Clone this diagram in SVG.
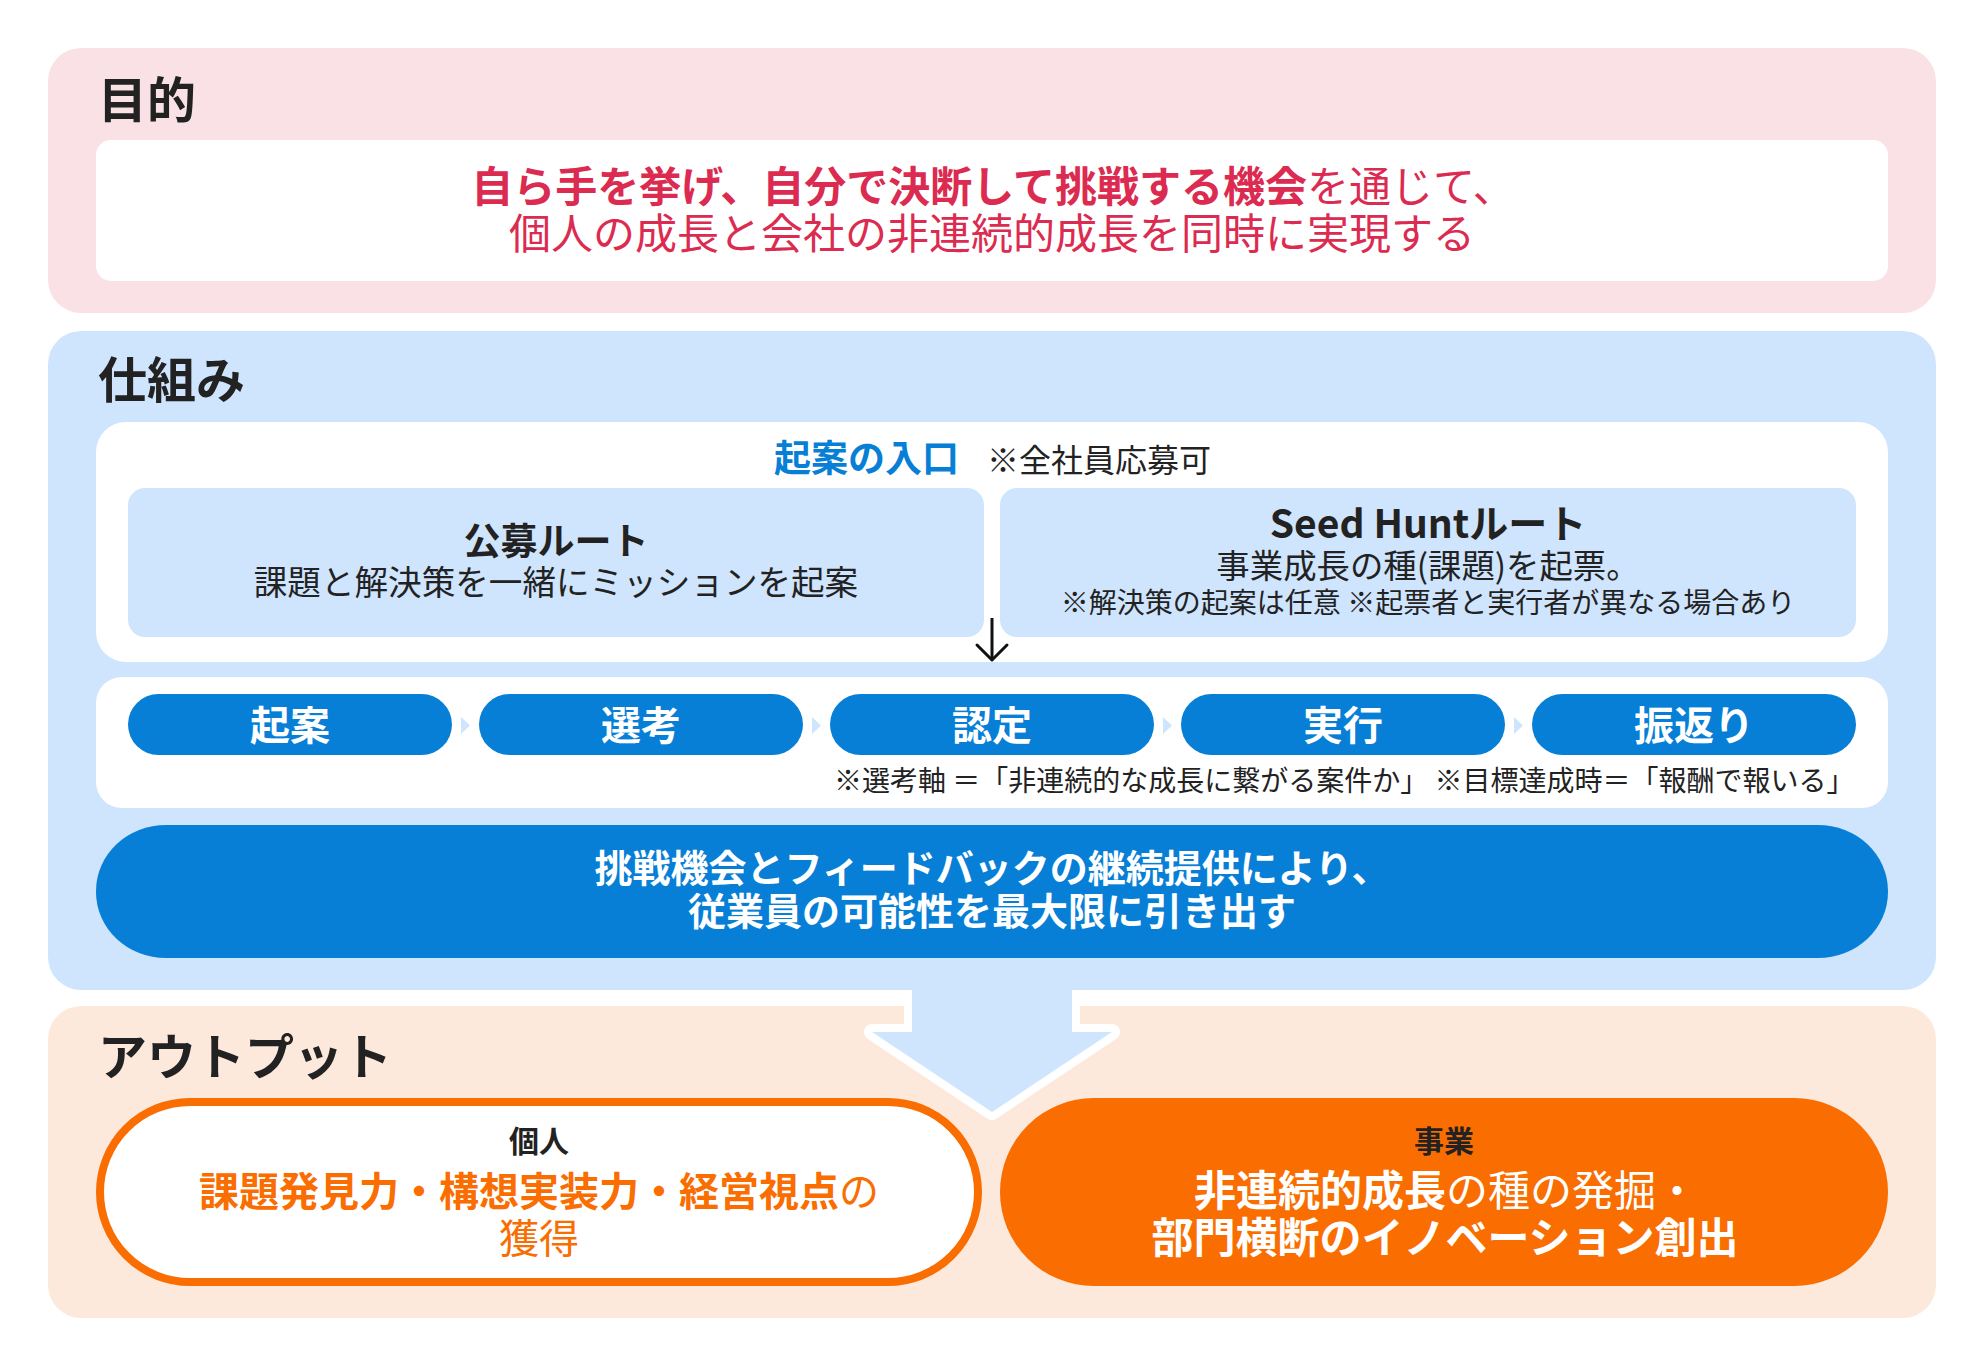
<svg xmlns="http://www.w3.org/2000/svg" width="1984" height="1366" viewBox="0 0 1984 1366">
<defs>
<style>
text{font-family:"Noto Sans CJK JP","Noto Sans",sans-serif;}
.b{font-weight:700;}
.r{font-weight:400;}
.title{font-size:49px;font-weight:700;fill:#222222;}
.dark{fill:#222222;}
.red{fill:#dc2b50;}
.wht{fill:#ffffff;}
.org{fill:#f96d01;}
.blu{fill:#077fd6;}
.c{text-anchor:middle;}
.pill{fill:#077fd6;}
.sub{fill:#cfe4fd;}
.tri{fill:#cfe4fd;}
</style>
</defs>
<rect width="1984" height="1366" fill="#ffffff"/>

<g id="purpose">
<rect x="48" y="48" width="1888" height="265" rx="33" fill="#f9e1e5"/>
<text x="98" y="118" class="title">目的</text>
<rect x="96" y="140" width="1792" height="141" rx="15" fill="#ffffff"/>
<text x="993" y="202" class="c red" font-size="42"><tspan class="b">自ら手を挙げ、自分で決断して挑戦する機会</tspan><tspan class="r">を通じて、</tspan></text>
<text x="992" y="249" class="c red r" font-size="42">個人の成長と会社の非連続的成長を同時に実現する</text>
</g>

<g id="mechanism">
<rect x="48" y="331" width="1888" height="659" rx="33" fill="#cfe4fd"/>
<text x="98" y="398" class="title">仕組み</text>
</g>

<g id="output">
<rect x="48" y="1006" width="1888" height="312" rx="33" fill="#fde9dc"/>
<text x="98" y="1075" class="title">アウトプット</text>
</g>

<g id="entry">
<rect x="96" y="422" width="1792" height="240" rx="30" fill="#ffffff"/>
<text x="774" y="472" class="b blu" font-size="37">起案の入口</text>
<text x="987" y="472" class="r dark" font-size="32">※全社員応募可</text>
</g>

<g id="route-koubo">
<rect x="128" y="488" width="856" height="149" rx="17" class="sub"/>
<text x="556" y="555" class="c b dark" font-size="37">公募ルート</text>
<text x="556" y="595" class="c r dark" font-size="33.6">課題と解決策を一緒にミッションを起案</text>
</g>

<g id="route-seedhunt">
<rect x="1000" y="488" width="856" height="149" rx="17" class="sub"/>
<text x="1428" y="538" class="c b dark" font-size="39">Seed Huntルート</text>
<text x="1428" y="578" class="c r dark" font-size="33.4">事業成長の種(課題)を起票。</text>
<text x="1428" y="613" class="c r dark" font-size="28">※解決策の起案は任意 ※起票者と実行者が異なる場合あり</text>
</g>

<g id="process">
<rect x="96" y="677" width="1792" height="131" rx="26" fill="#ffffff"/>
<text x="834" y="791" class="r dark" font-size="28">※選考軸 ＝「非連続的な成長に繋がる案件か」 ※目標達成時＝「報酬で報いる」</text>
</g>

<g id="step-kian">
<rect x="128" y="694" width="324" height="61" rx="30.5" class="pill"/>
<text x="290" y="740" class="c b wht" font-size="40">起案</text>
</g>
<g id="step-senkou">
<rect x="479" y="694" width="324" height="61" rx="30.5" class="pill"/>
<text x="641" y="740" class="c b wht" font-size="40">選考</text>
</g>
<g id="step-nintei">
<rect x="830" y="694" width="324" height="61" rx="30.5" class="pill"/>
<text x="992" y="740" class="c b wht" font-size="40">認定</text>
</g>
<g id="step-jikkou">
<rect x="1181" y="694" width="324" height="61" rx="30.5" class="pill"/>
<text x="1343" y="740" class="c b wht" font-size="40">実行</text>
</g>
<g id="step-furikaeri">
<rect x="1532" y="694" width="324" height="61" rx="30.5" class="pill"/>
<text x="1694" y="740" class="c b wht" font-size="40">振返り</text>
</g>

<g id="summary">
<rect x="96" y="825" width="1792" height="133" rx="70" ry="66" class="pill"/>
<text x="992" y="882" class="c b wht" font-size="38">挑戦機会とフィードバックの継続提供により、</text>
<text x="992" y="925" class="c b wht" font-size="38">従業員の可能性を最大限に引き出す</text>
</g>

<g id="out-individual">
<rect x="100" y="1102" width="878" height="180" rx="90" fill="#ffffff" stroke="#f96d01" stroke-width="8"/>
<text x="539" y="1152" class="c b dark" font-size="30">個人</text>
<text x="539" y="1206" class="c org" font-size="40"><tspan class="b">課題発見力・構想実装力・経営視点</tspan><tspan class="r">の</tspan></text>
<text x="539" y="1253" class="c org r" font-size="40">獲得</text>
</g>

<g id="out-business">
<rect x="1000" y="1098" width="888" height="188" rx="94" fill="#f96d01"/>
<text x="1444" y="1152" class="c b dark" font-size="30">事業</text>
<text x="1446" y="1206" class="c wht" font-size="42"><tspan class="b">非連続的成長</tspan><tspan class="r">の種の発掘・</tspan></text>
<text x="1445" y="1253" class="c b wht" font-size="42">部門横断のイノベーション創出</text>
</g>

<g id="connectors">
<polygon points="461,717 470,725.5 461,734" class="tri"/>
<polygon points="812,717 821,725.5 812,734" class="tri"/>
<polygon points="1163,717 1172,725.5 1163,734" class="tri"/>
<polygon points="1514,717 1523,725.5 1514,734" class="tri"/>
<line x1="992" y1="618" x2="992" y2="660" stroke="#111111" stroke-width="3"/>
<polyline points="977,645 992,660 1007,645" fill="none" stroke="#111111" stroke-width="3" stroke-linecap="round" stroke-linejoin="round"/>
<path d="M912 990 V1032 H872 L992 1112 L1112 1032 H1072 V990" fill="none" stroke="#ffffff" stroke-width="16" stroke-linejoin="round"/>
<path d="M912 980 V1032 H872 L992 1112 L1112 1032 H1072 V980 Z" fill="#cfe4fd"/>
</g>
</svg>
